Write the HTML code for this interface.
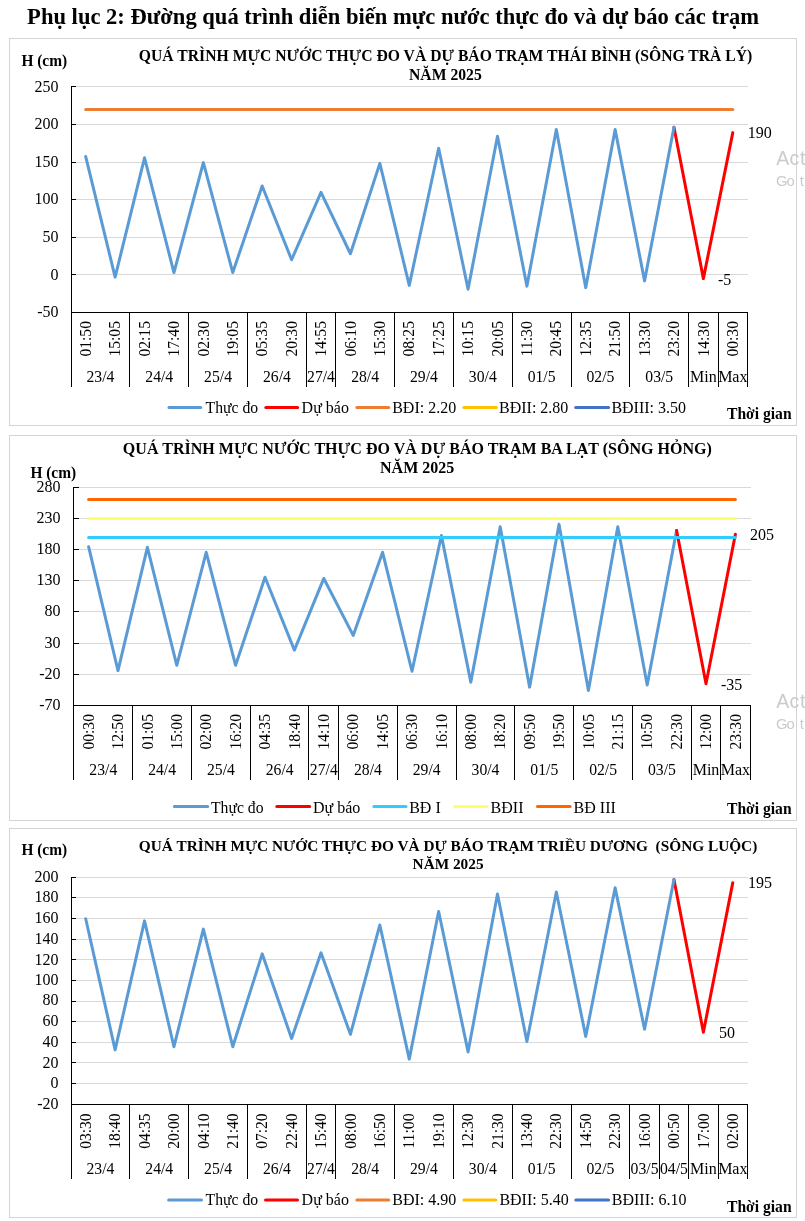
<!DOCTYPE html>
<html><head><meta charset="utf-8"><title>Phụ lục 2</title>
<style>
html,body{margin:0;padding:0;background:#fff;}
body{width:805px;height:1221px;overflow:hidden;font-family:"Liberation Serif",serif;}
svg{display:block;will-change:transform;}
svg{font-family:"Liberation Serif",serif;font-size:16px;fill:#000;}
svg .wm{font-family:"Liberation Sans",sans-serif;fill:#cbcbcb;}
</style></head><body>
<svg width="805" height="1221" viewBox="0 0 805 1221">
<rect width="805" height="1221" fill="#fff"/>
<text x="27.1" y="23.75" font-weight="bold" font-size="22.56" textLength="732" lengthAdjust="spacingAndGlyphs">Phụ lục 2: Đường quá trình diễn biến mực nước thực đo và dự báo các trạm</text>
<rect x="9.5" y="38.5" width="787.0" height="387.0" fill="#fff" stroke="#D4D4D4" stroke-width="1"/>
<text x="58.50" y="91.80" text-anchor="end">250</text>
<text x="58.50" y="128.60" text-anchor="end">200</text>
<text x="58.50" y="166.50" text-anchor="end">150</text>
<text x="58.50" y="204.30" text-anchor="end">100</text>
<text x="58.50" y="242.00" text-anchor="end">50</text>
<text x="58.50" y="279.80" text-anchor="end">0</text>
<text x="58.50" y="317.00" text-anchor="end">-50</text>
<path d="M71.5 86.5H747.5M71.5 124.5H747.5M71.5 162.5H747.5M71.5 199.5H747.5M71.5 237.5H747.5M71.5 274.5H747.5" stroke="#D9D9D9" stroke-width="1" fill="none" shape-rendering="crispEdges"/>
<path d="M71.5 86.0V386.5M71.0 312.5H748.0M71.5 86.5h4.5M71.5 124.5h4.5M71.5 162.5h4.5M71.5 199.5h4.5M71.5 237.5h4.5M71.5 274.5h4.5M129.5 312.5V386.5M188.5 312.5V386.5M247.5 312.5V386.5M306.5 312.5V386.5M335.5 312.5V386.5M394.5 312.5V386.5M453.5 312.5V386.5M512.5 312.5V386.5M571.5 312.5V386.5M629.5 312.5V386.5M688.5 312.5V386.5M718.5 312.5V386.5M747.5 312.5V386.5" stroke="#000" stroke-width="1" fill="none" shape-rendering="crispEdges"/>
<text transform="translate(90.86 338.80) rotate(-90)" text-anchor="middle" textLength="35.5" lengthAdjust="spacingAndGlyphs">01:50</text>
<text transform="translate(120.27 338.80) rotate(-90)" text-anchor="middle" textLength="35.5" lengthAdjust="spacingAndGlyphs">15:05</text>
<text transform="translate(149.68 338.80) rotate(-90)" text-anchor="middle" textLength="35.5" lengthAdjust="spacingAndGlyphs">02:15</text>
<text transform="translate(179.10 338.80) rotate(-90)" text-anchor="middle" textLength="35.5" lengthAdjust="spacingAndGlyphs">17:40</text>
<text transform="translate(208.51 338.80) rotate(-90)" text-anchor="middle" textLength="35.5" lengthAdjust="spacingAndGlyphs">02:30</text>
<text transform="translate(237.92 338.80) rotate(-90)" text-anchor="middle" textLength="35.5" lengthAdjust="spacingAndGlyphs">19:05</text>
<text transform="translate(267.33 338.80) rotate(-90)" text-anchor="middle" textLength="35.5" lengthAdjust="spacingAndGlyphs">05:35</text>
<text transform="translate(296.75 338.80) rotate(-90)" text-anchor="middle" textLength="35.5" lengthAdjust="spacingAndGlyphs">20:30</text>
<text transform="translate(326.16 338.80) rotate(-90)" text-anchor="middle" textLength="35.5" lengthAdjust="spacingAndGlyphs">14:55</text>
<text transform="translate(355.57 338.80) rotate(-90)" text-anchor="middle" textLength="35.5" lengthAdjust="spacingAndGlyphs">06:10</text>
<text transform="translate(384.99 338.80) rotate(-90)" text-anchor="middle" textLength="35.5" lengthAdjust="spacingAndGlyphs">15:30</text>
<text transform="translate(414.40 338.80) rotate(-90)" text-anchor="middle" textLength="35.5" lengthAdjust="spacingAndGlyphs">08:25</text>
<text transform="translate(443.81 338.80) rotate(-90)" text-anchor="middle" textLength="35.5" lengthAdjust="spacingAndGlyphs">17:25</text>
<text transform="translate(473.23 338.80) rotate(-90)" text-anchor="middle" textLength="35.5" lengthAdjust="spacingAndGlyphs">10:15</text>
<text transform="translate(502.64 338.80) rotate(-90)" text-anchor="middle" textLength="35.5" lengthAdjust="spacingAndGlyphs">20:05</text>
<text transform="translate(532.05 338.80) rotate(-90)" text-anchor="middle" textLength="35.5" lengthAdjust="spacingAndGlyphs">11:30</text>
<text transform="translate(561.47 338.80) rotate(-90)" text-anchor="middle" textLength="35.5" lengthAdjust="spacingAndGlyphs">20:45</text>
<text transform="translate(590.88 338.80) rotate(-90)" text-anchor="middle" textLength="35.5" lengthAdjust="spacingAndGlyphs">12:35</text>
<text transform="translate(620.29 338.80) rotate(-90)" text-anchor="middle" textLength="35.5" lengthAdjust="spacingAndGlyphs">21:50</text>
<text transform="translate(649.70 338.80) rotate(-90)" text-anchor="middle" textLength="35.5" lengthAdjust="spacingAndGlyphs">13:30</text>
<text transform="translate(679.12 338.80) rotate(-90)" text-anchor="middle" textLength="35.5" lengthAdjust="spacingAndGlyphs">23:20</text>
<text transform="translate(708.53 338.80) rotate(-90)" text-anchor="middle" textLength="35.5" lengthAdjust="spacingAndGlyphs">14:30</text>
<text transform="translate(737.94 338.80) rotate(-90)" text-anchor="middle" textLength="35.5" lengthAdjust="spacingAndGlyphs">00:30</text>
<text x="100.41" y="381.50" text-anchor="middle" textLength="27.9" lengthAdjust="spacingAndGlyphs">23/4</text>
<text x="159.24" y="381.50" text-anchor="middle" textLength="27.9" lengthAdjust="spacingAndGlyphs">24/4</text>
<text x="218.07" y="381.50" text-anchor="middle" textLength="27.9" lengthAdjust="spacingAndGlyphs">25/4</text>
<text x="276.89" y="381.50" text-anchor="middle" textLength="27.9" lengthAdjust="spacingAndGlyphs">26/4</text>
<text x="321.01" y="381.50" text-anchor="middle" textLength="27.9" lengthAdjust="spacingAndGlyphs">27/4</text>
<text x="365.13" y="381.50" text-anchor="middle" textLength="27.9" lengthAdjust="spacingAndGlyphs">28/4</text>
<text x="423.96" y="381.50" text-anchor="middle" textLength="27.9" lengthAdjust="spacingAndGlyphs">29/4</text>
<text x="482.78" y="381.50" text-anchor="middle" textLength="27.9" lengthAdjust="spacingAndGlyphs">30/4</text>
<text x="541.61" y="381.50" text-anchor="middle" textLength="27.9" lengthAdjust="spacingAndGlyphs">01/5</text>
<text x="600.43" y="381.50" text-anchor="middle" textLength="27.9" lengthAdjust="spacingAndGlyphs">02/5</text>
<text x="659.26" y="381.50" text-anchor="middle" textLength="27.9" lengthAdjust="spacingAndGlyphs">03/5</text>
<text x="703.38" y="381.50" text-anchor="middle">Min</text>
<text x="732.79" y="381.50" text-anchor="middle">Max</text>
<path d="M85.71 109.50H732.79" stroke="#ED7D31" stroke-width="3" stroke-linecap="round" fill="none"/>
<polyline points="673.97,127.18 703.38,278.60 732.79,132.60" stroke="#FF0000" stroke-width="3" stroke-linecap="round" stroke-linejoin="round" fill="none"/>
<polyline points="85.71,156.56 115.12,277.09 144.53,157.77 173.95,272.57 203.36,162.59 232.77,272.57 262.18,185.94 291.60,259.77 321.01,192.34 350.42,253.74 379.84,163.34 409.25,285.38 438.66,148.27 468.08,289.15 497.49,136.22 526.90,286.13 556.32,129.44 585.73,287.64 615.14,129.44 644.55,280.86 673.97,127.18" stroke="#5B9BD5" stroke-width="3" stroke-linecap="round" stroke-linejoin="round" fill="none"/>
<text x="138.85" y="61.40" font-weight="bold" font-size="15.68" textLength="613.45" lengthAdjust="spacingAndGlyphs">QUÁ TRÌNH MỰC NƯỚC THỰC ĐO VÀ DỰ BÁO TRẠM THÁI BÌNH (SÔNG TRÀ LÝ)</text>
<text x="445.40" y="79.80" text-anchor="middle" font-weight="bold" font-size="15.68">NĂM 2025</text>
<text x="21.40" y="65.90" font-weight="bold" textLength="45.7" lengthAdjust="spacingAndGlyphs">H (cm)</text>
<path d="M169.00 407.5H200.70" stroke="#5B9BD5" stroke-width="3" stroke-linecap="round"/>
<text x="205.60" y="413.00" textLength="52.5" lengthAdjust="spacingAndGlyphs">Thực đo</text>
<path d="M265.80 407.5H297.60" stroke="#FF0000" stroke-width="3" stroke-linecap="round"/>
<text x="301.60" y="413.00">Dự báo</text>
<path d="M356.90 407.5H388.70" stroke="#ED7D31" stroke-width="3" stroke-linecap="round"/>
<text x="392.20" y="413.00">BĐI: 2.20</text>
<path d="M463.80 407.5H496.30" stroke="#FFC000" stroke-width="3" stroke-linecap="round"/>
<text x="499.00" y="413.00">BĐII: 2.80</text>
<path d="M575.70 407.5H608.60" stroke="#4472C4" stroke-width="3" stroke-linecap="round"/>
<text x="611.40" y="413.00">BĐIII: 3.50</text>
<text x="727.00" y="418.50" font-weight="bold" textLength="64.6" lengthAdjust="spacingAndGlyphs">Thời gian</text>
<text x="747.80" y="138.00">190</text>
<text x="718.00" y="285.00">-5</text>
<rect x="9.5" y="435.5" width="787.0" height="385.0" fill="#fff" stroke="#D4D4D4" stroke-width="1"/>
<text x="60.50" y="491.75" text-anchor="end">280</text>
<text x="60.50" y="522.91" text-anchor="end">230</text>
<text x="60.50" y="554.06" text-anchor="end">180</text>
<text x="60.50" y="585.22" text-anchor="end">130</text>
<text x="60.50" y="616.38" text-anchor="end">80</text>
<text x="60.50" y="647.54" text-anchor="end">30</text>
<text x="60.50" y="678.69" text-anchor="end">-20</text>
<text x="60.50" y="709.85" text-anchor="end">-70</text>
<path d="M73.5 487.5H750.5M73.5 518.5H750.5M73.5 549.5H750.5M73.5 580.5H750.5M73.5 611.5H750.5M73.5 643.5H750.5M73.5 674.5H750.5" stroke="#D9D9D9" stroke-width="1" fill="none" shape-rendering="crispEdges"/>
<path d="M73.5 487.0V780M73.0 705.5H751.0M73.5 487.5h5.5M73.5 518.5h5.5M73.5 549.5h5.5M73.5 580.5h5.5M73.5 611.5h5.5M73.5 643.5h5.5M73.5 674.5h5.5M132.5 705.5V780M191.5 705.5V780M250.5 705.5V780M308.5 705.5V780M338.5 705.5V780M397.5 705.5V780M456.5 705.5V780M514.5 705.5V780M573.5 705.5V780M632.5 705.5V780M691.5 705.5V780M720.5 705.5V780M750.5 705.5V780" stroke="#000" stroke-width="1" fill="none" shape-rendering="crispEdges"/>
<text transform="translate(93.75 731.80) rotate(-90)" text-anchor="middle" textLength="35.5" lengthAdjust="spacingAndGlyphs">00:30</text>
<text transform="translate(123.15 731.80) rotate(-90)" text-anchor="middle" textLength="35.5" lengthAdjust="spacingAndGlyphs">12:50</text>
<text transform="translate(152.55 731.80) rotate(-90)" text-anchor="middle" textLength="35.5" lengthAdjust="spacingAndGlyphs">01:05</text>
<text transform="translate(181.95 731.80) rotate(-90)" text-anchor="middle" textLength="35.5" lengthAdjust="spacingAndGlyphs">15:00</text>
<text transform="translate(211.35 731.80) rotate(-90)" text-anchor="middle" textLength="35.5" lengthAdjust="spacingAndGlyphs">02:00</text>
<text transform="translate(240.75 731.80) rotate(-90)" text-anchor="middle" textLength="35.5" lengthAdjust="spacingAndGlyphs">16:20</text>
<text transform="translate(270.15 731.80) rotate(-90)" text-anchor="middle" textLength="35.5" lengthAdjust="spacingAndGlyphs">04:35</text>
<text transform="translate(299.55 731.80) rotate(-90)" text-anchor="middle" textLength="35.5" lengthAdjust="spacingAndGlyphs">18:40</text>
<text transform="translate(328.95 731.80) rotate(-90)" text-anchor="middle" textLength="35.5" lengthAdjust="spacingAndGlyphs">14:10</text>
<text transform="translate(358.35 731.80) rotate(-90)" text-anchor="middle" textLength="35.5" lengthAdjust="spacingAndGlyphs">06:00</text>
<text transform="translate(387.75 731.80) rotate(-90)" text-anchor="middle" textLength="35.5" lengthAdjust="spacingAndGlyphs">14:05</text>
<text transform="translate(417.15 731.80) rotate(-90)" text-anchor="middle" textLength="35.5" lengthAdjust="spacingAndGlyphs">06:30</text>
<text transform="translate(446.55 731.80) rotate(-90)" text-anchor="middle" textLength="35.5" lengthAdjust="spacingAndGlyphs">16:10</text>
<text transform="translate(475.95 731.80) rotate(-90)" text-anchor="middle" textLength="35.5" lengthAdjust="spacingAndGlyphs">08:00</text>
<text transform="translate(505.35 731.80) rotate(-90)" text-anchor="middle" textLength="35.5" lengthAdjust="spacingAndGlyphs">18:20</text>
<text transform="translate(534.75 731.80) rotate(-90)" text-anchor="middle" textLength="35.5" lengthAdjust="spacingAndGlyphs">09:50</text>
<text transform="translate(564.15 731.80) rotate(-90)" text-anchor="middle" textLength="35.5" lengthAdjust="spacingAndGlyphs">19:50</text>
<text transform="translate(593.55 731.80) rotate(-90)" text-anchor="middle" textLength="35.5" lengthAdjust="spacingAndGlyphs">10:05</text>
<text transform="translate(622.95 731.80) rotate(-90)" text-anchor="middle" textLength="35.5" lengthAdjust="spacingAndGlyphs">21:15</text>
<text transform="translate(652.35 731.80) rotate(-90)" text-anchor="middle" textLength="35.5" lengthAdjust="spacingAndGlyphs">10:50</text>
<text transform="translate(681.75 731.80) rotate(-90)" text-anchor="middle" textLength="35.5" lengthAdjust="spacingAndGlyphs">22:30</text>
<text transform="translate(711.15 731.80) rotate(-90)" text-anchor="middle" textLength="35.5" lengthAdjust="spacingAndGlyphs">12:00</text>
<text transform="translate(740.55 731.80) rotate(-90)" text-anchor="middle" textLength="35.5" lengthAdjust="spacingAndGlyphs">23:30</text>
<text x="103.30" y="775.00" text-anchor="middle" textLength="27.9" lengthAdjust="spacingAndGlyphs">23/4</text>
<text x="162.10" y="775.00" text-anchor="middle" textLength="27.9" lengthAdjust="spacingAndGlyphs">24/4</text>
<text x="220.90" y="775.00" text-anchor="middle" textLength="27.9" lengthAdjust="spacingAndGlyphs">25/4</text>
<text x="279.70" y="775.00" text-anchor="middle" textLength="27.9" lengthAdjust="spacingAndGlyphs">26/4</text>
<text x="323.80" y="775.00" text-anchor="middle" textLength="27.9" lengthAdjust="spacingAndGlyphs">27/4</text>
<text x="367.90" y="775.00" text-anchor="middle" textLength="27.9" lengthAdjust="spacingAndGlyphs">28/4</text>
<text x="426.70" y="775.00" text-anchor="middle" textLength="27.9" lengthAdjust="spacingAndGlyphs">29/4</text>
<text x="485.50" y="775.00" text-anchor="middle" textLength="27.9" lengthAdjust="spacingAndGlyphs">30/4</text>
<text x="544.30" y="775.00" text-anchor="middle" textLength="27.9" lengthAdjust="spacingAndGlyphs">01/5</text>
<text x="603.10" y="775.00" text-anchor="middle" textLength="27.9" lengthAdjust="spacingAndGlyphs">02/5</text>
<text x="661.90" y="775.00" text-anchor="middle" textLength="27.9" lengthAdjust="spacingAndGlyphs">03/5</text>
<text x="706.00" y="775.00" text-anchor="middle">Min</text>
<text x="735.40" y="775.00" text-anchor="middle">Max</text>
<polyline points="88.60,546.67 118.00,670.62 147.40,547.29 176.80,665.33 206.20,552.28 235.60,665.33 265.00,577.19 294.40,650.07 323.80,578.44 353.20,635.43 382.60,552.28 412.00,671.24 441.40,535.46 470.80,682.14 500.20,526.74 529.60,687.13 559.00,524.25 588.40,690.55 617.80,526.74 647.20,684.95 676.60,530.48" stroke="#5B9BD5" stroke-width="3" stroke-linecap="round" stroke-linejoin="round" fill="none"/>
<polyline points="676.60,530.48 706.00,683.70 735.40,534.21" stroke="#FF0000" stroke-width="3" stroke-linecap="round" stroke-linejoin="round" fill="none"/>
<path d="M88.60 537.50H735.40" stroke="#33CCFF" stroke-width="3" stroke-linecap="round" fill="none"/>
<path d="M88.60 518.50H735.40" stroke="#FFFF66" stroke-width="3" stroke-linecap="round" fill="none"/>
<path d="M88.60 499.50H735.40" stroke="#FF6600" stroke-width="3" stroke-linecap="round" fill="none"/>
<text x="122.85" y="454.40" font-weight="bold" font-size="16.03" textLength="589.05" lengthAdjust="spacingAndGlyphs">QUÁ TRÌNH MỰC NƯỚC THỰC ĐO VÀ DỰ BÁO TRẠM BA LẠT (SÔNG HỎNG)</text>
<text x="417.20" y="472.80" text-anchor="middle" font-weight="bold" font-size="16.03">NĂM 2025</text>
<text x="30.40" y="478.10" font-weight="bold" textLength="45.7" lengthAdjust="spacingAndGlyphs">H (cm)</text>
<path d="M174.40 806.6H207.70" stroke="#5B9BD5" stroke-width="3" stroke-linecap="round"/>
<text x="211.00" y="813.00" textLength="52.5" lengthAdjust="spacingAndGlyphs">Thực đo</text>
<path d="M276.80 806.6H309.70" stroke="#FF0000" stroke-width="3" stroke-linecap="round"/>
<text x="313.00" y="813.00">Dự báo</text>
<path d="M373.80 806.6H406.00" stroke="#33CCFF" stroke-width="3" stroke-linecap="round"/>
<text x="409.20" y="813.00">BĐ I</text>
<path d="M454.50 806.6H486.70" stroke="#FFFF66" stroke-width="3" stroke-linecap="round"/>
<text x="490.60" y="813.00">BĐII</text>
<path d="M537.50 806.6H570.10" stroke="#FF6600" stroke-width="3" stroke-linecap="round"/>
<text x="573.60" y="813.00">BĐ III</text>
<text x="727.00" y="813.70" font-weight="bold" textLength="64.6" lengthAdjust="spacingAndGlyphs">Thời gian</text>
<text x="750.00" y="539.90">205</text>
<text x="721.00" y="690.00">-35</text>
<rect x="9.5" y="828.5" width="787.0" height="389.0" fill="#fff" stroke="#D4D4D4" stroke-width="1"/>
<text x="58.50" y="881.50" text-anchor="end">200</text>
<text x="58.50" y="902.40" text-anchor="end">180</text>
<text x="58.50" y="923.00" text-anchor="end">160</text>
<text x="58.50" y="943.90" text-anchor="end">140</text>
<text x="58.50" y="964.75" text-anchor="end">120</text>
<text x="58.50" y="985.10" text-anchor="end">100</text>
<text x="58.50" y="1005.40" text-anchor="end">80</text>
<text x="58.50" y="1026.40" text-anchor="end">60</text>
<text x="58.50" y="1046.70" text-anchor="end">40</text>
<text x="58.50" y="1067.85" text-anchor="end">20</text>
<text x="58.50" y="1087.70" text-anchor="end">0</text>
<text x="58.50" y="1108.60" text-anchor="end">-20</text>
<path d="M71.5 877.5H747.5M71.5 897.5H747.5M71.5 918.5H747.5M71.5 939.5H747.5M71.5 959.5H747.5M71.5 980.5H747.5M71.5 1001.5H747.5M71.5 1021.5H747.5M71.5 1042.5H747.5M71.5 1062.5H747.5M71.5 1083.5H747.5" stroke="#D9D9D9" stroke-width="1" fill="none" shape-rendering="crispEdges"/>
<path d="M71.5 877.0V1178.5M71.0 1104.5H748.0M71.5 877.5h4.5M71.5 897.5h4.5M71.5 918.5h4.5M71.5 939.5h4.5M71.5 959.5h4.5M71.5 980.5h4.5M71.5 1001.5h4.5M71.5 1021.5h4.5M71.5 1042.5h4.5M71.5 1062.5h4.5M71.5 1083.5h4.5M129.5 1104.5V1178.5M188.5 1104.5V1178.5M247.5 1104.5V1178.5M306.5 1104.5V1178.5M335.5 1104.5V1178.5M394.5 1104.5V1178.5M453.5 1104.5V1178.5M512.5 1104.5V1178.5M571.5 1104.5V1178.5M629.5 1104.5V1178.5M659.5 1104.5V1178.5M688.5 1104.5V1178.5M718.5 1104.5V1178.5M747.5 1104.5V1178.5" stroke="#000" stroke-width="1" fill="none" shape-rendering="crispEdges"/>
<text transform="translate(90.86 1131.10) rotate(-90)" text-anchor="middle" textLength="35.5" lengthAdjust="spacingAndGlyphs">03:30</text>
<text transform="translate(120.27 1131.10) rotate(-90)" text-anchor="middle" textLength="35.5" lengthAdjust="spacingAndGlyphs">18:40</text>
<text transform="translate(149.68 1131.10) rotate(-90)" text-anchor="middle" textLength="35.5" lengthAdjust="spacingAndGlyphs">04:35</text>
<text transform="translate(179.10 1131.10) rotate(-90)" text-anchor="middle" textLength="35.5" lengthAdjust="spacingAndGlyphs">20:00</text>
<text transform="translate(208.51 1131.10) rotate(-90)" text-anchor="middle" textLength="35.5" lengthAdjust="spacingAndGlyphs">04:10</text>
<text transform="translate(237.92 1131.10) rotate(-90)" text-anchor="middle" textLength="35.5" lengthAdjust="spacingAndGlyphs">21:40</text>
<text transform="translate(267.33 1131.10) rotate(-90)" text-anchor="middle" textLength="35.5" lengthAdjust="spacingAndGlyphs">07:20</text>
<text transform="translate(296.75 1131.10) rotate(-90)" text-anchor="middle" textLength="35.5" lengthAdjust="spacingAndGlyphs">22:40</text>
<text transform="translate(326.16 1131.10) rotate(-90)" text-anchor="middle" textLength="35.5" lengthAdjust="spacingAndGlyphs">15:40</text>
<text transform="translate(355.57 1131.10) rotate(-90)" text-anchor="middle" textLength="35.5" lengthAdjust="spacingAndGlyphs">08:00</text>
<text transform="translate(384.99 1131.10) rotate(-90)" text-anchor="middle" textLength="35.5" lengthAdjust="spacingAndGlyphs">16:50</text>
<text transform="translate(414.40 1131.10) rotate(-90)" text-anchor="middle" textLength="35.5" lengthAdjust="spacingAndGlyphs">11:00</text>
<text transform="translate(443.81 1131.10) rotate(-90)" text-anchor="middle" textLength="35.5" lengthAdjust="spacingAndGlyphs">19:10</text>
<text transform="translate(473.23 1131.10) rotate(-90)" text-anchor="middle" textLength="35.5" lengthAdjust="spacingAndGlyphs">12:30</text>
<text transform="translate(502.64 1131.10) rotate(-90)" text-anchor="middle" textLength="35.5" lengthAdjust="spacingAndGlyphs">21:30</text>
<text transform="translate(532.05 1131.10) rotate(-90)" text-anchor="middle" textLength="35.5" lengthAdjust="spacingAndGlyphs">13:40</text>
<text transform="translate(561.47 1131.10) rotate(-90)" text-anchor="middle" textLength="35.5" lengthAdjust="spacingAndGlyphs">22:30</text>
<text transform="translate(590.88 1131.10) rotate(-90)" text-anchor="middle" textLength="35.5" lengthAdjust="spacingAndGlyphs">14:50</text>
<text transform="translate(620.29 1131.10) rotate(-90)" text-anchor="middle" textLength="35.5" lengthAdjust="spacingAndGlyphs">22:30</text>
<text transform="translate(649.70 1131.10) rotate(-90)" text-anchor="middle" textLength="35.5" lengthAdjust="spacingAndGlyphs">16:00</text>
<text transform="translate(679.12 1131.10) rotate(-90)" text-anchor="middle" textLength="35.5" lengthAdjust="spacingAndGlyphs">00:50</text>
<text transform="translate(708.53 1131.10) rotate(-90)" text-anchor="middle" textLength="35.5" lengthAdjust="spacingAndGlyphs">17:00</text>
<text transform="translate(737.94 1131.10) rotate(-90)" text-anchor="middle" textLength="35.5" lengthAdjust="spacingAndGlyphs">02:00</text>
<text x="100.41" y="1174.00" text-anchor="middle" textLength="27.9" lengthAdjust="spacingAndGlyphs">23/4</text>
<text x="159.24" y="1174.00" text-anchor="middle" textLength="27.9" lengthAdjust="spacingAndGlyphs">24/4</text>
<text x="218.07" y="1174.00" text-anchor="middle" textLength="27.9" lengthAdjust="spacingAndGlyphs">25/4</text>
<text x="276.89" y="1174.00" text-anchor="middle" textLength="27.9" lengthAdjust="spacingAndGlyphs">26/4</text>
<text x="321.01" y="1174.00" text-anchor="middle" textLength="27.9" lengthAdjust="spacingAndGlyphs">27/4</text>
<text x="365.13" y="1174.00" text-anchor="middle" textLength="27.9" lengthAdjust="spacingAndGlyphs">28/4</text>
<text x="423.96" y="1174.00" text-anchor="middle" textLength="27.9" lengthAdjust="spacingAndGlyphs">29/4</text>
<text x="482.78" y="1174.00" text-anchor="middle" textLength="27.9" lengthAdjust="spacingAndGlyphs">30/4</text>
<text x="541.61" y="1174.00" text-anchor="middle" textLength="27.9" lengthAdjust="spacingAndGlyphs">01/5</text>
<text x="600.43" y="1174.00" text-anchor="middle" textLength="27.9" lengthAdjust="spacingAndGlyphs">02/5</text>
<text x="644.55" y="1174.00" text-anchor="middle" textLength="27.9" lengthAdjust="spacingAndGlyphs">03/5</text>
<text x="673.97" y="1174.00" text-anchor="middle" textLength="27.9" lengthAdjust="spacingAndGlyphs">04/5</text>
<text x="703.38" y="1174.00" text-anchor="middle">Min</text>
<text x="732.79" y="1174.00" text-anchor="middle">Max</text>
<polyline points="673.97,879.56 703.38,1032.27 732.79,882.66" stroke="#FF0000" stroke-width="3" stroke-linecap="round" stroke-linejoin="round" fill="none"/>
<polyline points="85.71,918.77 115.12,1049.81 144.53,920.84 173.95,1046.72 203.36,929.09 232.77,1046.72 262.18,953.85 291.60,1038.46 321.01,952.82 350.42,1034.34 379.84,924.96 409.25,1059.10 438.66,911.55 468.08,1051.88 497.49,894.01 526.90,1041.56 556.32,891.95 585.73,1036.40 615.14,887.82 644.55,1029.18 673.97,879.56" stroke="#5B9BD5" stroke-width="3" stroke-linecap="round" stroke-linejoin="round" fill="none"/>
<text x="138.86" y="850.60" font-weight="bold" font-size="15.31" textLength="618.4" lengthAdjust="spacingAndGlyphs">QUÁ TRÌNH MỰC NƯỚC THỰC ĐO VÀ DỰ BÁO TRẠM TRIỀU DƯƠNG  (SÔNG LUỘC)</text>
<text x="448.10" y="868.70" text-anchor="middle" font-weight="bold" font-size="15.31">NĂM 2025</text>
<text x="21.40" y="855.40" font-weight="bold" textLength="45.7" lengthAdjust="spacingAndGlyphs">H (cm)</text>
<path d="M168.60 1200.1H201.50" stroke="#5B9BD5" stroke-width="3" stroke-linecap="round"/>
<text x="205.60" y="1204.65" textLength="52.5" lengthAdjust="spacingAndGlyphs">Thực đo</text>
<path d="M265.50 1200.1H297.50" stroke="#FF0000" stroke-width="3" stroke-linecap="round"/>
<text x="301.60" y="1204.65">Dự báo</text>
<path d="M356.90 1200.1H388.70" stroke="#ED7D31" stroke-width="3" stroke-linecap="round"/>
<text x="392.30" y="1204.65">BĐI: 4.90</text>
<path d="M463.90 1200.1H495.90" stroke="#FFC000" stroke-width="3" stroke-linecap="round"/>
<text x="499.40" y="1204.65">BĐII: 5.40</text>
<path d="M575.80 1200.1H608.60" stroke="#4472C4" stroke-width="3" stroke-linecap="round"/>
<text x="611.80" y="1204.65">BĐIII: 6.10</text>
<text x="727.00" y="1211.60" font-weight="bold" textLength="64.6" lengthAdjust="spacingAndGlyphs">Thời gian</text>
<text x="748.00" y="888.00">195</text>
<text x="719.00" y="1038.00">50</text>
<g class="wm">
<text x="776.2 789.6 799.9" y="165" font-size="19.6">Act</text>
<text x="776.0 786.6 799.8 804.6" y="185.7" font-size="14.8">Goto</text>
<text x="776.2 789.6 799.9" y="708" font-size="19.6">Act</text>
<text x="776.0 786.6 799.8 804.6" y="728.7" font-size="14.8">Goto</text>
</g>
</svg>
</body></html>
